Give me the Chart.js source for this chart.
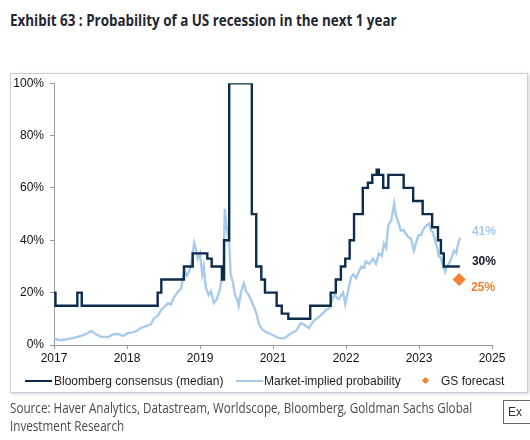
<!DOCTYPE html>
<html>
<head>
<meta charset="utf-8">
<script src="https://cdn.jsdelivr.net/npm/chart.js@4.4.0/dist/chart.umd.min.js"></script>
<style>
  body { margin: 0; width: 530px; height: 440px; background: #fff; position: relative; overflow: hidden; font-family: "Liberation Sans", Arial, sans-serif; }
  .title { position: absolute; left: 10px; top: 9px; font-family: "Open Sans", sans-serif; font-weight: bold; font-size: 16px; color: #232733; white-space: nowrap; transform-origin: left top; }
  .frame { position: absolute; left: 10px; top: 73px; width: 516px; height: 318px; border: 1px solid #c9ced6; box-shadow: 1px 1px 3px rgba(0,0,0,0.18); }
  .frame canvas { position: absolute; left: 0; top: -4px; }
  .lg { position: absolute; top: 374px; font-size: 12px; color: #1e1e1e; white-space: nowrap; line-height: 14px; }
  .lg i { position: absolute; display: block; }
  .source { position: absolute; left: 10px; top: 399px; font-family: "Open Sans", sans-serif; font-size: 14px; line-height: 18px; color: #4a4a4a; white-space: nowrap; transform-origin: left top; }
  .ex { position: absolute; left: 503px; top: 400px; width: 30px; height: 24px; border: 1px solid #666; font-size: 12px; line-height: 22px; padding-left: 4px; color: #333; box-sizing: border-box; }
</style>
</head>
<body>
<div class="title" id="title">Exhibit 63 : Probability of a US recession in the next 1 year</div>
<div class="frame"><canvas id="recessionChart" width="516" height="318"></canvas></div>

<div class="lg" style="left:25px"><i style="left:0;top:6px;width:27px;height:2px;background:#0c2c4c"></i><span style="padding-left:29px">Bloomberg consensus (median)</span></div>
<div class="lg" style="left:236px"><i style="left:0;top:6px;width:27px;height:2px;background:#a8cbeb"></i><span style="padding-left:28px">Market-implied probability</span></div>
<div class="lg" style="left:422px"><i style="left:1px;top:4px;width:5px;height:5px;background:#f08032;transform:rotate(45deg)"></i><span style="padding-left:19px">GS forecast</span></div>

<div class="source" id="source">Source: Haver Analytics, Datastream, Worldscope, Bloomberg, Goldman Sachs Global<br>Investment Research</div>
<div class="ex">Ex</div>

<script>
// x axis positions: one unit per labelled tick (labels as printed on the original)
const xTickLabels = ['2017', '2018', '2019', '2021', '2022', '2023', '2025'];
const yTicks = [0, 20, 40, 60, 80, 100];

// Bloomberg consensus (median), step changes: axis position / probability %
const bbgX = [0.00, 0.02, 0.32, 0.38, 1.42, 1.47, 1.78, 1.90, 2.10, 2.16, 2.30, 2.33, 2.40, 2.71, 2.77, 2.84, 2.89,
              3.05, 3.12, 3.21, 3.51, 3.79, 3.86, 3.93, 3.99, 4.05, 4.11, 4.23, 4.30, 4.36, 4.42, 4.45, 4.51,
              4.58, 4.79, 4.92, 5.05, 5.18, 5.26, 5.30, 5.34, 5.56];
const bbgY = [20, 15, 20, 15, 20, 25, 30, 35, 33, 30, 25, 40, 100, 50, 30, 25, 20,
              15, 12, 10, 15, 20, 25, 30, 33, 40, 50, 60, 62, 65, 67, 65, 60,
              65, 60, 55, 50, 45, 40, 35, 30, 30];

// Market-implied probability
const mktX = [0.00, 0.05, 0.12, 0.19, 0.27, 0.37, 0.44, 0.51, 0.58, 0.64, 0.74, 0.81, 0.88, 0.95, 1.01, 1.08,
              1.14, 1.19, 1.26, 1.33, 1.37, 1.42, 1.47, 1.51, 1.56, 1.60, 1.64, 1.70, 1.74, 1.77, 1.79, 1.82,
              1.85, 1.88, 1.92, 1.95, 1.97, 2.00, 2.03, 2.05, 2.08, 2.12, 2.15, 2.19, 2.23, 2.26, 2.29, 2.32,
              2.34, 2.37, 2.40, 2.42, 2.45, 2.48, 2.51, 2.53, 2.56, 2.60, 2.63, 2.67, 2.70, 2.74, 2.77, 2.81,
              2.85, 2.90, 2.97, 3.07, 3.15, 3.25, 3.32, 3.38, 3.44, 3.49, 3.55, 3.59, 3.64, 3.68, 3.73, 3.77,
              3.81, 3.84, 3.88, 3.90, 3.96, 3.99, 4.03, 4.07, 4.10, 4.14, 4.16, 4.21, 4.25, 4.27, 4.32, 4.37,
              4.41, 4.45, 4.49, 4.52, 4.55, 4.58, 4.62, 4.66, 4.68, 4.71, 4.75, 4.79, 4.82, 4.86, 4.89, 4.93,
              4.96, 4.99, 5.03, 5.05, 5.10, 5.14, 5.16, 5.19, 5.22, 5.25, 5.27, 5.30, 5.33, 5.36, 5.38, 5.41,
              5.44, 5.48, 5.51, 5.53, 5.56];
const mktY = [2.7, 2.0, 1.9, 2.3, 2.7, 3.5, 4.2, 5.4, 4.0, 3.2, 3.0, 4.0, 4.2, 3.5, 4.6, 4.8,
              5.5, 6.5, 7.2, 8.0, 10.3, 11.0, 13.5, 14.5, 16.0, 15.5, 18.0, 20.5, 21.5, 26, 28.5, 26.5,
              28, 31, 39, 36, 33, 35, 27, 30, 22, 19, 20.5, 16, 17.5, 20, 24, 27,
              52, 44, 39, 27, 24, 19, 17.5, 15, 20, 23.5, 20.5, 19, 17, 14.5, 12.3, 8,
              6, 5, 4.2, 2.7, 2.5, 4.5, 5.5, 8.4, 7.5, 6.5, 9, 10, 11, 12, 13.5, 14,
              17, 19.5, 18, 17.5, 20, 15.7, 21, 26, 27, 25.5, 27, 30, 29.5, 32, 31, 33,
              31, 35, 34, 38.7, 37, 46, 47.5, 54, 50, 47.5, 43.7, 44, 42.5, 41, 40.6, 36,
              39, 41.8, 42, 43.7, 45.6, 46.4, 44, 43, 40, 37, 34, 33.3, 30, 28, 30, 31,
              33, 36, 35, 38, 41];

// GS forecast
const gsX = [5.55];
const gsY = [25];

const navy = '#0c2c4c';
const lightBlue = '#a8cbeb';
const orange = '#f08032';

// squeeze the title and source lines to the narrow width of the original font
function fitWidth(id, w) {
  const el = document.getElementById(id);
  el.style.transform = 'scaleX(' + (w / el.offsetWidth) + ')';
}
fitWidth('title', 387);
fitWidth('source', 462);

const toPoints = (xs, ys) => xs.map((x, i) => ({ x: x, y: ys[i] }));

// end-of-series value labels
const endNotes = [
  { x: mktX[mktX.length - 1], y: mktY[mktY.length - 1], color: lightBlue, dy: -6 },
  { x: bbgX[bbgX.length - 1], y: bbgY[bbgY.length - 1], color: '#141a24', dy: -5 },
  { x: gsX[0], y: gsY[0], color: orange, dy: 8 }
];

const endLabels = {
  id: 'endLabels',
  afterDatasetsDraw(chart) {
    const { ctx, scales: { x, y } } = chart;
    ctx.save();
    ctx.font = 'bold 12px "Liberation Sans", Arial, sans-serif';
    ctx.textBaseline = 'middle';
    endNotes.forEach(n => {
      ctx.fillStyle = n.color;
      ctx.fillText(n.y + '%', x.getPixelForValue(n.x) + 12, y.getPixelForValue(n.y) + n.dy);
    });
    ctx.restore();
  }
};

const axisFont = { family: '"Liberation Sans", Arial, sans-serif', size: 12 };

new Chart(document.getElementById('recessionChart').getContext('2d'), {
  type: 'line',
  data: {
    datasets: [
      {
        label: 'GS forecast',
        data: toPoints(gsX, gsY),
        showLine: false,
        pointStyle: 'rectRot',
        pointRadius: 6,
        backgroundColor: orange,
        borderColor: orange,
        order: 0,
      },
      {
        label: 'Bloomberg consensus (median)',
        data: toPoints(bbgX, bbgY),
        stepped: 'before',
        borderColor: navy,
        borderWidth: 2.4,
        pointRadius: 0,
        order: 1,
      },
      {
        label: 'Market-implied probability',
        data: toPoints(mktX, mktY),
        borderColor: lightBlue,
        borderWidth: 2.4,
        pointRadius: 0,
        tension: 0,
        order: 2,
      },
    ],
  },
  options: {
    responsive: false,
    animation: false,
    layout: { padding: { left: 0, right: 35, top: 6, bottom: 0 } },
    plugins: {
      legend: { display: false },
      tooltip: { enabled: false },
    },
    scales: {
      x: {
        type: 'linear',
        min: 0,
        max: xTickLabels.length - 1,
        afterBuildTicks: (scale) => { scale.ticks = xTickLabels.map((_, i) => ({ value: i })); },
        afterFit: (scale) => { scale.height = 43; },
        ticks: {
          callback: (v) => xTickLabels[v],
          color: '#111',
          font: axisFont,
          padding: 2,
          maxRotation: 0,
        },
        grid: { drawOnChartArea: false, drawTicks: true, tickLength: 4, color: '#9a9a9a' },
        border: { color: '#9a9a9a' },
      },
      y: {
        min: 0,
        max: 100,
        afterBuildTicks: (scale) => { scale.ticks = yTicks.map(v => ({ value: v })); },
        afterFit: (scale) => { scale.width = 43; },
        ticks: {
          callback: (v) => v + '%',
          color: '#111',
          font: axisFont,
          padding: 6,
        },
        grid: { drawOnChartArea: false, drawTicks: true, tickLength: 4, color: '#9a9a9a' },
        border: { color: '#9a9a9a' },
      },
    },
  },
  plugins: [endLabels],
});
</script>
</body>
</html>
